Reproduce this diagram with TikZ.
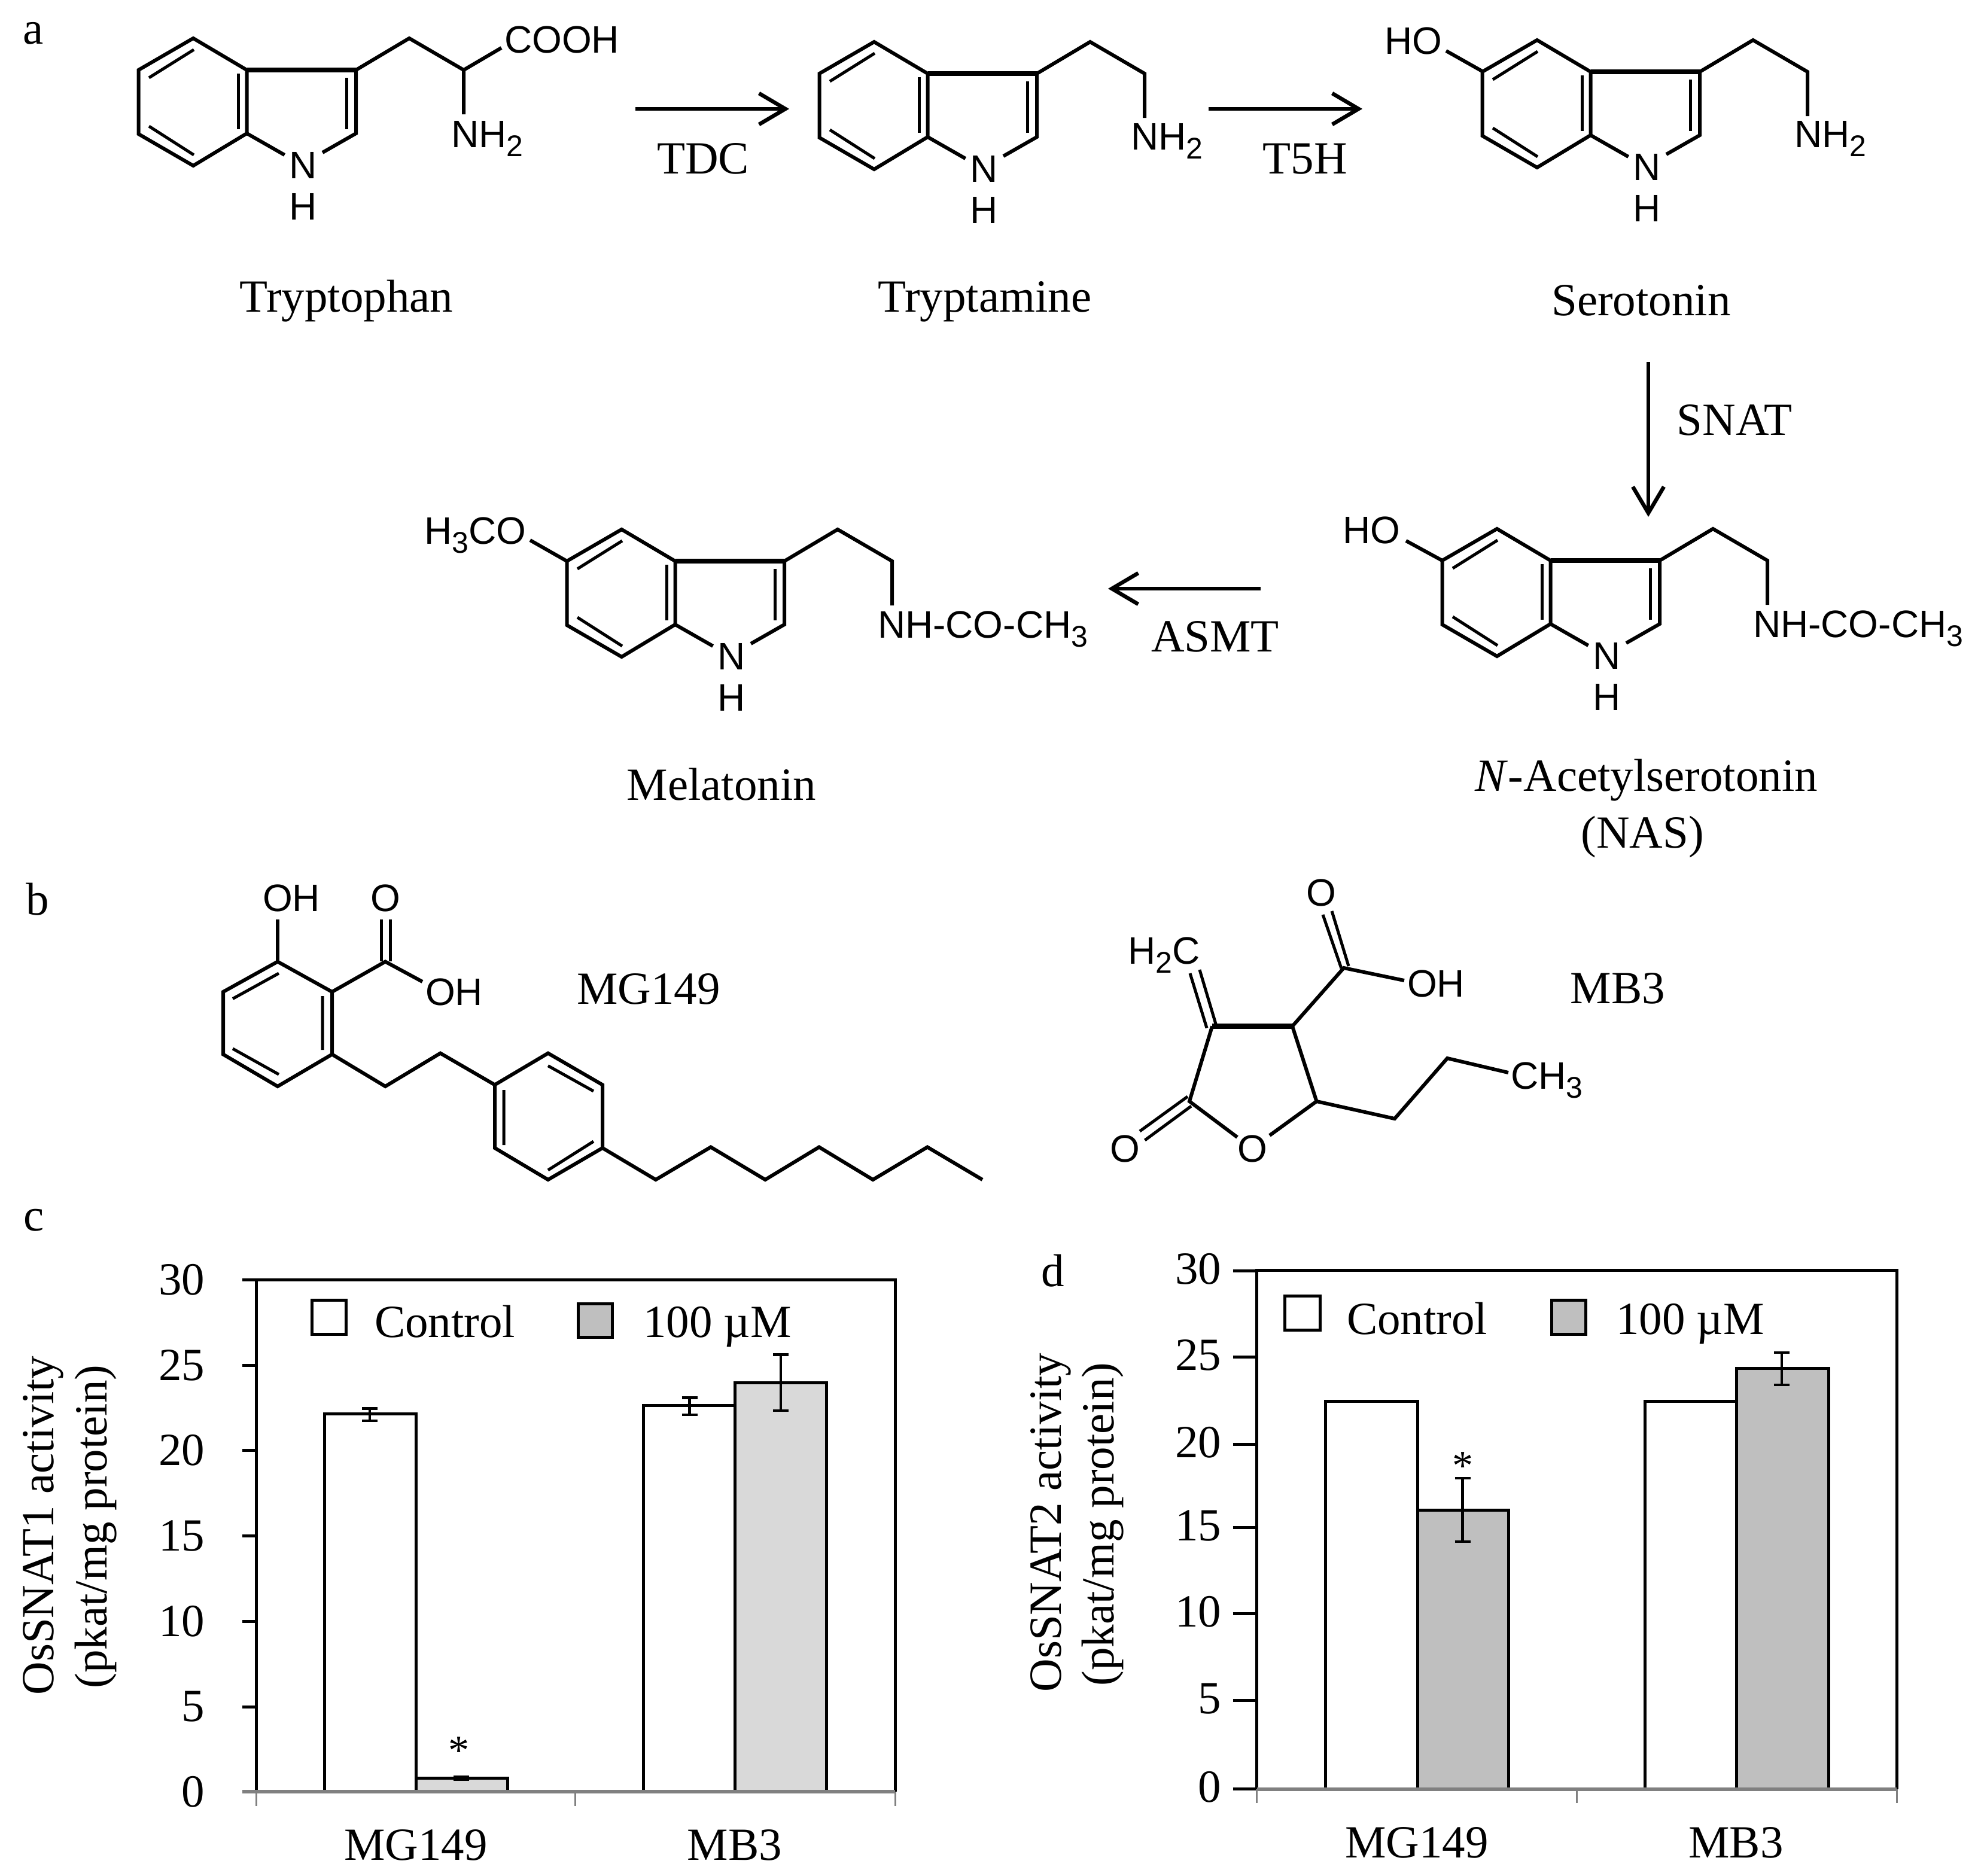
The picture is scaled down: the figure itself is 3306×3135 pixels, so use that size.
\documentclass[tikz,border=0pt]{standalone}
\usepackage{fontspec}
\setmainfont{Liberation Serif}
\newfontfamily\chemfont{Liberation Sans}
\usetikzlibrary{arrows.meta}
\newcommand{\csub}[1]{\raisebox{-15pt}{\fontsize{50}{50}\selectfont #1}}
\tikzset{
  every node/.style={inner sep=0pt,outer sep=0pt,text=black},
  lab/.style={font=\fontsize{77}{84}\selectfont,anchor=base},
  chm/.style={font=\chemfont\fontsize{64}{70}\selectfont,anchor=base},
  chw/.style={font=\chemfont\fontsize{64}{70}\selectfont,anchor=base west},
  bond/.style={line width=6pt,line join=miter,draw=black},
  fused/.style={line width=8.5pt,draw=black},
  inner/.style={line width=5pt,draw=black},
  rxn/.style={line width=6.5pt,draw=black,-{Straight Barb[length=44pt,width=52pt,line width=6.5pt]}},
  bar/.style={line width=5pt,draw=black,line join=miter},
  errb/.style={line width=4.5pt,draw=black},
  frame/.style={line width=5pt,draw=black},
  base/.style={line width=5.5pt,draw=black!50},
  xtick/.style={line width=3pt,draw=black!50},
  ytick/.style={line width=5pt,draw=black},
}
\definecolor{barc}{HTML}{D9D9D9}
\definecolor{bard}{HTML}{BFBFBF}
% indole core: shared ring system and ethyl chain
\newcommand{\indole}{%
  \draw[bond] (412.5,117)--(323,64)--(231.5,117)--(231.5,224)--(323,277)--(412.5,223)--cycle;
  \draw[fused] (412.5,117)--(595,117);
  \draw[bond] (595,117)--(595,223)--(539,255);
  \draw[bond] (412.5,223)--(475.6,259);
  \draw[inner] (249,130)--(324,83);
  \draw[inner] (249,211)--(324,259);
  \draw[inner] (398,123)--(398,216);
  \draw[inner] (579,130)--(579,216);
  \draw[bond] (595,117)--(684,64)--(775,117)--(775,191);
  \node[chm] (ringN) at (507,298) {N};
  \node[chm] (ringH) at (507,367) {H};
}
\newcommand{\ebar}[3]{%
  \draw[errb] ({#1-13},#2)--({#1+13},#2) (#1,#2)--(#1,#3) ({#1-13},#3)--({#1+13},#3);
}
\begin{document}
\begin{tikzpicture}[x=1pt,y=-1pt]
\useasboundingbox (0,0) rectangle (3306,3135);
\fill[white] (0,0) rectangle (3306,3135);
% panel letters
\node[lab] (pa) at (56,73) {a};
\node[lab] (pb) at (63,1529) {b};
\node[lab] (pc) at (57,2057) {c};
\node[lab] (pd) at (1760,2150) {d};
% Tryptophan
\begin{scope}[name prefix=trp-]
  \indole
  \draw[bond] (775,117)--(838,80);
  \node[chw] (cooh) at (843,88) {COOH};
  \node[chw] (nh2) at (754,246) {NH\csub{2}};
\end{scope}
\node[lab] (ltrp) at (579,521) {Tryptophan};
% Tryptamine
\begin{scope}[shift={(1138,6)},name prefix=tpm-]
  \indole
  \node[chw] (nh2) at (752,244) {NH\csub{2}};
\end{scope}
\node[lab] (ltpm) at (1646,521) {Tryptamine};
% Serotonin
\begin{scope}[shift={(2246,3)},name prefix=ser-]
  \indole
  \draw[bond] (233,117)--(171,82);
  \node[chw] (ho) at (68,87) {HO};
  \node[chw] (nh2) at (753,243) {NH\csub{2}};
\end{scope}
\node[lab] (lser) at (2743,527) {Serotonin};
% N-Acetylserotonin
\begin{scope}[shift={(2179,820)},name prefix=nas-]
  \indole
  \draw[bond] (231.5,117)--(171,84);
  \node[chw] (ho) at (65,88) {HO};
  \node[chw] (nhco) at (751,245) {NH-CO-CH\csub{3}};
\end{scope}
\node[lab] (lnas) at (2752,1322) {\textit{N}-Acetylserotonin};
\node[lab] (lnas2) at (2745,1417) {(NAS)};
% Melatonin
\begin{scope}[shift={(716,821)},name prefix=mel-]
  \indole
  \draw[bond] (231.5,117)--(170,82);
  \node[chw] (ome) at (-6.5,88) {H\csub{3}CO};
  \node[chw] (nhco) at (751,245) {NH-CO-CH\csub{3}};
\end{scope}
\node[lab] (lmel) at (1206,1337) {Melatonin};
% Reactions
\coordinate (r1a) at (1062,182); \coordinate (r1b) at (1319,182);
\coordinate (r2a) at (2020,182); \coordinate (r2b) at (2277,182);
\coordinate (r3a) at (2755,605); \coordinate (r3b) at (2755,864);
\coordinate (r4a) at (2107,984); \coordinate (r4b) at (1852,984);
\draw[rxn] (r1a)--(r1b);
\draw[rxn] (r2a)--(r2b);
\draw[rxn] (r3a)--(r3b);
\draw[rxn] (r4a)--(r4b);
\node[lab] (tdc) at (1175,290) {TDC};
\node[lab] (t5h) at (2181,290) {T5H};
\node[lab] (snat) at (2899,727) {SNAT};
\node[lab] (asmt) at (2031,1089) {ASMT};
% MG149
\draw[bond] (555,1658)--(464,1607.5)--(373,1658)--(373,1762.5)--(464,1816)--(555,1762.5)--cycle;
\draw[inner] (389,1669.5)--(466,1627) (539,1665)--(539,1755) (389,1753)--(466,1796);
\draw[bond] (464,1607.5)--(464,1537);
\draw[bond] (555,1658)--(644,1607.5)--(706,1641);
\draw[inner] (637.5,1607)--(637.5,1537) (652.7,1607)--(652.7,1537);
\draw[bond] (555,1762.5)--(644,1816)--(736,1760.6)--(827,1813.4);
\draw[bond] (827,1813.4)--(916,1760.6)--(1007,1813.4)--(1007,1919)--(916,1972)--(827,1919)--cycle;
\draw[inner] (916,1781.6)--(992,1824) (842,1822)--(842,1914) (916,1956)--(992,1908);
\draw[bond] (1007,1919)--(1096,1972)--(1188,1917.5)--(1279,1972)--(1369,1917.5)--(1459,1972)--(1550,1917.5)--(1642,1972);
\node[chm] (mgoh) at (487,1523) {OH};
\node[chm] (mgo) at (644,1523) {O};
\node[chw] (mgoh2) at (711,1680) {OH};
\node[lab] (lmg) at (1084,1678) {MG149};
% MB3
\draw[fused] (2026,1715.5)--(2160,1715.5);
\draw[bond] (2026,1715.5)--(1988,1841)--(2068,1901);
\draw[bond] (2160,1715.5)--(2200.5,1841)--(2122,1898);
\draw[inner] (1985,1833)--(1905,1891) (1991,1849)--(1913.5,1906);
\draw[inner] (1989,1627)--(2017,1718.5) (2005,1621)--(2033,1715);
\draw[bond] (2160,1715.5)--(2246,1618)--(2347,1639);
\draw[inner] (2211,1529)--(2242,1619) (2226,1523)--(2254,1615);
\draw[bond] (2200.5,1841)--(2331,1870)--(2419,1769)--(2521,1793);
\node[chm] (mbo) at (2093,1942) {O};
\node[chm] (mbo2) at (1880,1942) {O};
\node[chw] (mbh2c) at (1885,1611) {H\csub{2}C};
\node[chm] (mbo3) at (2208,1514) {O};
\node[chw] (mboh) at (2352,1666) {OH};
\node[chw] (mbch3) at (2525,1820) {CH\csub{3}};
\node[lab] (lmb) at (2704,1677) {MB3};
% Chart c
\draw[bar,fill=white] (542,2995)--(542,2363.5)--(695,2363.5)--(695,2995);
\draw[bar,fill=barc] (695,2995)--(695,2972.5)--(848,2972.5)--(848,2995);
\draw[bar,fill=white] (1075.5,2995)--(1075.5,2349.7)--(1228,2349.7)--(1228,2995);
\draw[bar,fill=barc] (1228,2995)--(1228,2311)--(1381,2311)--(1381,2995);
\ebar{618}{2354.5}{2375}
\ebar{771}{2970}{2975}
\ebar{1152.6}{2336.5}{2365}
\ebar{1305}{2264.5}{2358}
\draw[frame] (428,2995)--(428,2139)--(1496,2139)--(1496,2995);
\foreach \yy/\tt in {2139/30,2282/25,2424.5/20,2567/15,2710/10,2853/5,2995/0}{
  \draw[ytick] (405,\yy)--(428,\yy);
  \node[lab,anchor=east] (c\tt) at (342,\yy) {\tt};
}
\draw[base] (405,2995)--(1496,2995);
\draw[xtick] (428,2995)--(428,3019) (961,2995)--(961,3019) (1496,2995)--(1496,3019);
\node[lab,font=\fontsize{70}{76}\selectfont] (cstar) at (767,2949) {*};
\draw[bar,fill=white] (521,2173) rectangle (578,2230);
\draw[bar,fill=bard] (966,2179) rectangle (1023,2235);
\node[lab,anchor=base west] (cctl) at (626,2235) {Control};
\node[lab,anchor=base west] (cum) at (1075,2235) {100 µM};
\node[lab] (cx1) at (695,3109) {MG149};
\node[lab] (cx2) at (1228,3109) {MB3};
\node[lab,rotate=90] (cy1) at (89,2550) {OsSNAT1 activity};
\node[lab,rotate=90] (cy2) at (178,2552) {(pkat/mg protein)};
% Chart d
\draw[bar,fill=white] (2215,2991)--(2215,2342.7)--(2369,2342.7)--(2369,2991);
\draw[bar,fill=bard] (2369,2991)--(2369,2524)--(2521.5,2524)--(2521.5,2991);
\draw[bar,fill=white] (2749,2991)--(2749,2342.7)--(2902.5,2342.7)--(2902.5,2991);
\draw[bar,fill=bard] (2902.5,2991)--(2902.5,2287.4)--(3056,2287.4)--(3056,2991);
\ebar{2444.6}{2470.8}{2577}
\ebar{2978}{2261}{2315}
\draw[frame] (2100.5,2991)--(2100.5,2123)--(3170,2123)--(3170,2991);
\foreach \yy/\tt in {2124/30,2268.7/25,2414.7/20,2553/15,2697.7/10,2842.4/5,2990/0}{
  \draw[ytick] (2060.5,\yy)--(2100.5,\yy);
  \node[lab,anchor=east] (d\tt) at (2041,{\yy-3}) {\tt};
}
\draw[base] (2100.5,2991)--(3170,2991);
\draw[xtick] (2100.5,2991)--(2100.5,3014) (2635,2991)--(2635,3014) (3170,2991)--(3170,3014);
\node[lab,font=\fontsize{70}{76}\selectfont] (dstar) at (2444.6,2473) {*};
\draw[bar,fill=white] (2147.6,2166) rectangle (2206,2223);
\draw[bar,fill=bard] (2593,2173) rectangle (2650.5,2230);
\node[lab,anchor=base west] (dctl) at (2251,2230) {Control};
\node[lab,anchor=base west] (dum) at (2701,2230) {100 µM};
\node[lab] (dx1) at (2368,3105) {MG149};
\node[lab] (dx2) at (2901.5,3105) {MB3};
\node[lab,rotate=90] (dy1) at (1773,2545) {OsSNAT2 activity};
\node[lab,rotate=90] (dy2) at (1861,2548) {(pkat/mg protein)};
\end{tikzpicture}
\end{document}
